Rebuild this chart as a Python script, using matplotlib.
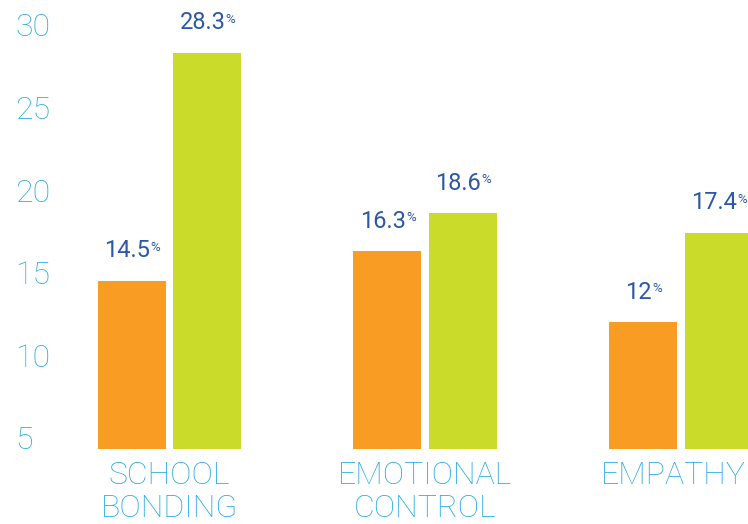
import matplotlib
matplotlib.use("Agg")
import matplotlib.pyplot as plt
import matplotlib.transforms as mtransforms
import numpy as np

categories = ["SCHOOL\nBONDING", "EMOTIONAL\nCONTROL", "EMPATHY"]
series_a = [14.5, 16.3, 12.0]
series_b = [28.3, 18.6, 17.4]
labels_a = ["14.5", "16.3", "12"]
labels_b = ["28.3", "18.6", "17.4"]
yticks = [5, 10, 15, 20, 25, 30]

ORANGE = "#F89C24"
GREEN = "#CADB2A"
CYAN = "#29ABE2"
BLUE = "#2B57A6"
FONT = "Roboto"

W, H = 748, 524
fig = plt.figure(figsize=(W / 100, H / 100), dpi=100)
ax = fig.add_axes([80 / W, (H - 449) / H, (W - 80) / W, 449 / H])

ymin, ymax = 4.33, 31.51
x = np.arange(len(categories))
bw = 0.266
off = 0.148
ax.bar(x - off, np.array(series_a) - ymin, bw, bottom=ymin, color=ORANGE, linewidth=0)
ax.bar(x + off, np.array(series_b) - ymin, bw, bottom=ymin, color=GREEN, linewidth=0)

for xs, vals, labs in ((x - off, series_a, labels_a), (x + off, series_b, labels_b)):
    for xi, v, lab in zip(xs, vals, labs):
        t = ax.annotate(lab, (xi, v), xytext=(-3.5, 17), textcoords="offset points",
                        ha="center", va="baseline", color=BLUE, fontsize=17,
                        family=FONT, fontweight="normal")
        ax.annotate("%", xy=(1.0, 1.0), xycoords=t, xytext=(0.3, -1),
                    textcoords="offset points", ha="left", va="top", color=BLUE,
                    fontsize=9.5, family=FONT, fontweight="normal")

ax.set_xlim(-0.35, 2.262)
ax.set_ylim(ymin, ymax)
ax.set_yticks(yticks)
ax.set_yticklabels([str(t) for t in yticks], fontsize=23, color=CYAN, family=FONT,
                   fontweight="light", ha="left")
ax.tick_params(axis="y", length=0, pad=46.8)
ax.set_xticks(x)
ax.set_xticklabels(categories, fontsize=23, color=CYAN, family=FONT,
                   fontweight="light", linespacing=1.15)
ax.tick_params(axis="x", length=0, pad=9)
last = ax.get_xticklabels()[-1]
last.set_transform(last.get_transform() +
                   mtransforms.ScaledTranslation(-8 / 100, 0, fig.dpi_scale_trans))
for s in ax.spines.values():
    s.set_visible(False)

fig.savefig("out.png", dpi=100)
